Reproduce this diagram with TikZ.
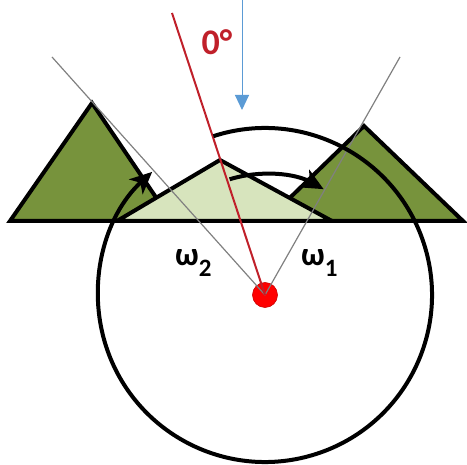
\documentclass[tikz,border=0pt]{standalone}
\usepackage{fontspec}
\setmainfont{Carlito}
\usetikzlibrary{arrows.meta}
\definecolor{darkgreen}{HTML}{77933C}
\definecolor{lightgreen}{HTML}{D7E4BD}
\definecolor{redline}{HTML}{C0202A}
\definecolor{bluearrow}{HTML}{5B9BD5}
\begin{document}
\begin{tikzpicture}[x=1pt,y=-1pt,
  mount/.style={draw=black,line width=4pt,line join=miter},
  ray/.style={draw=gray,line width=1.2pt},
  bigarrow/.style={draw=black,line width=4pt,-{Stealth[length=22pt,width=20pt,inset=6pt]}},
  lbl/.style={inner sep=0pt,font=\fontsize{33}{33}\selectfont\bfseries}
]
\useasboundingbox (0,0) rectangle (467,465);
\coordinate (C) at (265,295);
% mountains
\coordinate (l1) at (10,221); \coordinate (l2) at (92,103); \coordinate (l3) at (172,221);
\coordinate (r1) at (266,221); \coordinate (r2) at (364,126); \coordinate (r3) at (463,221);
\coordinate (m1) at (117,221); \coordinate (m2) at (220,160); \coordinate (m3) at (332,221);
\filldraw[mount,fill=darkgreen] (l1) -- (l2) -- (l3) -- cycle;
\filldraw[mount,fill=darkgreen] (r1) -- (r2) -- (r3) -- cycle;
\filldraw[mount,fill=lightgreen] (m1) -- (m2) -- (m3) -- cycle;
% dot
\node[circle,fill=red,draw=red!80!black,line width=0.6pt,minimum size=25pt,inner sep=0pt] (dot) at (C) {};
% rays
\coordinate (g1) at (52,57);
\coordinate (g2) at (400,57);
\draw[ray] (g1) -- (C);
\draw[ray] (g2) -- (C);
\coordinate (rt) at (172,13);
\draw[redline,line width=2pt] (rt) -- (C);
% big circle with arrow
\draw[bigarrow] (C) ++(-108:167) arc[start angle=-108,end angle=227.5,radius=167];
% inner arc
\draw[bigarrow] (C) ++(-107:121) arc[start angle=-107,end angle=-61,radius=121];
% blue arrow
\coordinate (b1) at (242,0);
\coordinate (b2) at (242,110);
\draw[bluearrow,line width=1pt,-{Triangle[length=15pt,width=14pt]}] (b1) -- (b2);
% labels
\node[text=redline,inner sep=0pt,anchor=base,font=\fontsize{36}{36}\selectfont\bfseries] (zero) at (217,55) {0°};
\node[lbl,anchor=base west] (w2) at (175,266) {ω{\fontsize{25}{25}\selectfont\raisebox{-11pt}{2}}};
\node[lbl,anchor=base west] (w1) at (301,266) {ω{\fontsize{25}{25}\selectfont\raisebox{-11pt}{1}}};
\end{tikzpicture}
\end{document}
